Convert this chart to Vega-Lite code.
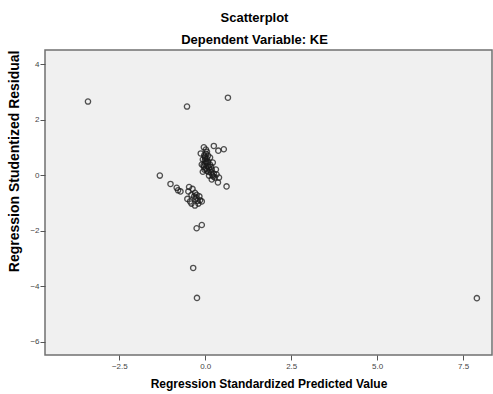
{
  "$schema": "https://vega.github.io/schema/vega-lite/v6.json",
  "width": 447,
  "height": 305,
  "autosize": "none",
  "padding": {"left": 45, "top": 50, "right": 1, "bottom": 39},
  "background": "white",
  "title": {
    "text": "Scatterplot",
    "subtitle": "Dependent Variable: KE",
    "font": "Liberation Sans",
    "fontSize": 13,
    "fontWeight": "bold",
    "color": "#000000",
    "subtitleFont": "Liberation Sans",
    "subtitleFontSize": 13,
    "subtitleFontWeight": "bold",
    "subtitleColor": "#000000",
    "subtitlePadding": 9,
    "anchor": "middle",
    "dx": -14,
    "offset": 3
  },
  "config": {
    "view": {"fill": "#F0F0F0", "stroke": "#707070", "strokeWidth": 1.5},
    "axis": {
      "grid": false,
      "domain": false,
      "tickColor": "#555555",
      "tickSize": 5,
      "labelFont": "Liberation Sans",
      "labelFontSize": 8,
      "labelColor": "#444444",
      "titleFont": "Liberation Sans",
      "titleFontWeight": "bold",
      "titleColor": "#000000"
    }
  },
  "data": {
    "values": [
      {"pred": -3.41, "resid": 2.66},
      {"pred": -0.53, "resid": 2.48},
      {"pred": 0.66, "resid": 2.80},
      {"pred": -0.04, "resid": 1.01},
      {"pred": 0.25, "resid": 1.06},
      {"pred": 0.38, "resid": 0.89},
      {"pred": 0.54, "resid": 0.94},
      {"pred": -0.13, "resid": 0.79},
      {"pred": 0.02, "resid": 0.78},
      {"pred": -0.01, "resid": 0.67},
      {"pred": 0.05, "resid": 0.60},
      {"pred": -0.07, "resid": 0.57},
      {"pred": 0.08, "resid": 0.49},
      {"pred": -0.01, "resid": 0.42},
      {"pred": 0.14, "resid": 0.39},
      {"pred": -0.04, "resid": 0.31},
      {"pred": 0.11, "resid": 0.28},
      {"pred": 0.19, "resid": 0.21},
      {"pred": 0.05, "resid": 0.17},
      {"pred": -0.07, "resid": 0.13},
      {"pred": 0.17, "resid": 0.10},
      {"pred": 0.25, "resid": 0.06},
      {"pred": 0.11, "resid": -0.01},
      {"pred": 0.28, "resid": -0.08},
      {"pred": 0.19, "resid": -0.15},
      {"pred": 0.37, "resid": -0.26},
      {"pred": 0.40, "resid": -0.08},
      {"pred": 0.31, "resid": 0.21},
      {"pred": 0.22, "resid": 0.46},
      {"pred": 0.02, "resid": 0.93},
      {"pred": 0.08, "resid": 0.71},
      {"pred": -0.10, "resid": 0.39},
      {"pred": 0.14, "resid": 0.64},
      {"pred": 0.62, "resid": -0.40},
      {"pred": 0.33, "resid": 0.03},
      {"pred": 0.23, "resid": -0.04},
      {"pred": 0.05, "resid": 0.85},
      {"pred": -0.01, "resid": 0.53},
      {"pred": 0.17, "resid": 0.31},
      {"pred": 0.02, "resid": 0.24},
      {"pred": -0.03, "resid": 0.72},
      {"pred": 0.04, "resid": 0.45},
      {"pred": -0.05, "resid": 0.36},
      {"pred": 0.07, "resid": 0.33},
      {"pred": 0.00, "resid": 0.62},
      {"pred": 0.09, "resid": 0.12},
      {"pred": 0.13, "resid": 0.20},
      {"pred": 0.03, "resid": 0.50},
      {"pred": 0.21, "resid": 0.00},
      {"pred": -0.02, "resid": 0.20},
      {"pred": -1.32, "resid": -0.01},
      {"pred": -1.01, "resid": -0.31},
      {"pred": -0.83, "resid": -0.45},
      {"pred": -0.72, "resid": -0.58},
      {"pred": -0.79, "resid": -0.54},
      {"pred": -0.47, "resid": -0.42},
      {"pred": -0.37, "resid": -0.49},
      {"pred": -0.30, "resid": -0.63},
      {"pred": -0.52, "resid": -0.85},
      {"pred": -0.44, "resid": -0.94},
      {"pred": -0.25, "resid": -0.81},
      {"pred": -0.15, "resid": -0.90},
      {"pred": -0.30, "resid": -1.09},
      {"pred": -0.20, "resid": -1.02},
      {"pred": -0.40, "resid": -0.70},
      {"pred": -0.25, "resid": -0.70},
      {"pred": -0.17, "resid": -0.76},
      {"pred": -0.10, "resid": -0.94},
      {"pred": -0.40, "resid": -1.02},
      {"pred": -0.49, "resid": -0.58},
      {"pred": -0.32, "resid": -0.76},
      {"pred": -0.22, "resid": -0.92},
      {"pred": -0.28, "resid": -0.86},
      {"pred": -0.25, "resid": -1.91},
      {"pred": -0.10, "resid": -1.79},
      {"pred": -0.35, "resid": -3.34},
      {"pred": -0.24, "resid": -4.42},
      {"pred": 7.90, "resid": -4.43}
    ]
  },
  "mark": {"type": "point", "shape": "circle", "filled": false, "size": 28, "strokeWidth": 1.3, "color": "#1a1a1a", "opacity": 0.75},
  "encoding": {
    "x": {
      "field": "pred",
      "type": "quantitative",
      "title": "Regression Standardized Predicted Value",
      "scale": {"domain": [-4.66, 8.34], "nice": false, "zero": false},
      "axis": {"values": [-2.5, 0, 2.5, 5, 7.5], "format": ".1f", "labelPadding": 2, "titleFontSize": 12, "titlePadding": 8}
    },
    "y": {
      "field": "resid",
      "type": "quantitative",
      "title": "Regression Studentized Residual",
      "scale": {"domain": [-6.48, 4.52], "nice": false, "zero": false},
      "axis": {"values": [-6, -4, -2, 0, 2, 4], "format": "d", "labelPadding": 1, "titleFontSize": 14, "titleAnchor": "end", "titlePadding": 8}
    }
  }
}
